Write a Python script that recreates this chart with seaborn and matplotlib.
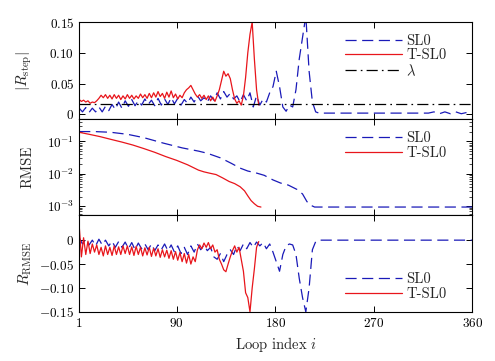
import numpy as np
import matplotlib
matplotlib.use('Agg')
import matplotlib.pyplot as plt
import seaborn as sns

# ---------------- data ----------------
# top panel |R_step|
step_red_loops = list(range(1, 166, 2))
step_red = [0.024, 0.021, 0.023, 0.020, 0.022, 0.018, 0.020, 0.019, 0.022, 0.026,
            0.031, 0.027, 0.032, 0.026, 0.031, 0.025, 0.032, 0.026, 0.031, 0.024,
            0.030, 0.025, 0.032, 0.026, 0.031, 0.025, 0.030, 0.026, 0.033, 0.027,
            0.032, 0.026, 0.034, 0.027, 0.035, 0.028, 0.037, 0.029, 0.034, 0.026,
            0.036, 0.028, 0.038, 0.027, 0.033, 0.025, 0.031, 0.027, 0.035, 0.040,
            0.043, 0.047, 0.040, 0.033, 0.028, 0.032, 0.026, 0.031, 0.024, 0.030,
            0.022, 0.028, 0.021, 0.030, 0.040, 0.055, 0.070, 0.062, 0.066, 0.058,
            0.040, 0.025, 0.018, 0.022, 0.015, 0.030, 0.060, 0.100, 0.130, 0.150,
            0.090, 0.040, 0.015]
step_blue_loops = list(range(1, 221, 3)) + [230, 245, 260, 275, 290, 305, 320, 325, 330, 335, 340, 345, 350, 355, 360]
step_blue = [0.010, 0.004, 0.011, 0.003, 0.010, 0.004, 0.012, 0.004, 0.013, 0.006,
             0.016, 0.008, 0.020, 0.010, 0.022, 0.013, 0.024, 0.014, 0.022, 0.015,
             0.025, 0.016, 0.023, 0.014, 0.026, 0.015, 0.025, 0.016, 0.027, 0.017,
             0.026, 0.015, 0.024, 0.018, 0.028, 0.020, 0.030, 0.022, 0.027, 0.020,
             0.030, 0.023, 0.035, 0.025, 0.037, 0.028, 0.034, 0.025, 0.030, 0.020,
             0.032, 0.022, 0.035, 0.012, 0.030, 0.015, 0.025, 0.020, 0.035, 0.045,
             0.070, 0.045, 0.012, 0.005, 0.015, 0.012, 0.040, 0.090, 0.125, 0.160,
             0.070, 0.020, 0.004, 0.002,
             0.002, 0.002, 0.002, 0.002, 0.002, 0.002, 0.002, 0.004, 0.001, 0.004,
             0.001, 0.004, 0.001, 0.003, 0.002]
lambda_loops = [1, 360]
lambda_vals = [0.017, 0.017]

# middle panel RMSE
rmse_red_loops = [1, 10, 20, 30, 40, 50, 60, 70, 80, 90, 100, 110, 115, 120, 126, 132,
                  138, 143, 148, 152, 155, 158, 161, 164, 167]
rmse_red = [0.19, 0.165, 0.14, 0.115, 0.095, 0.077, 0.060, 0.046, 0.034, 0.026, 0.019,
            0.013, 0.0115, 0.0105, 0.0095, 0.0075, 0.0058, 0.0050, 0.0040, 0.0030,
            0.0021, 0.0015, 0.0012, 0.0010, 0.00095]
rmse_blue_loops = [1, 15, 30, 45, 60, 78, 95, 110, 118, 130, 140, 148, 155, 162, 170,
                   178, 185, 192, 200, 205, 209, 212, 216, 360]
rmse_blue = [0.20, 0.20, 0.19, 0.165, 0.13, 0.088, 0.063, 0.050, 0.043, 0.031, 0.021,
             0.015, 0.0122, 0.0108, 0.0090, 0.0065, 0.0052, 0.0045, 0.0033, 0.0024,
             0.0014, 0.0011, 0.00095, 0.00095]

# bottom panel R_RMSE
rr_red_loops = list(range(1, 166, 2))
rr_red = [0.030, -0.035, 0.005, -0.030, -0.002, -0.028, -0.008, -0.025, -0.010, -0.030,
          -0.015, -0.033, -0.012, -0.030, -0.015, -0.032, -0.012, -0.030, -0.014, -0.030,
          -0.012, -0.028, -0.012, -0.030, -0.014, -0.032, -0.013, -0.030, -0.015, -0.033,
          -0.016, -0.031, -0.015, -0.034, -0.017, -0.033, -0.018, -0.036, -0.020, -0.035,
          -0.021, -0.038, -0.022, -0.040, -0.024, -0.042, -0.026, -0.045, -0.028, -0.048,
          -0.030, -0.050, -0.035, -0.045, -0.020, -0.010, -0.018, -0.006, -0.015, -0.005,
          -0.018, -0.010, -0.025, -0.020, -0.040, -0.050, -0.062, -0.066, -0.050, -0.035,
          -0.022, -0.012, -0.025, -0.015, -0.040, -0.065, -0.110, -0.120, -0.150, -0.100,
          -0.060, -0.015, -0.003]
rr_blue_loops = list(range(1, 221, 3)) + [240, 270, 300, 330, 360]
rr_blue = [0.005, -0.008, 0.002, -0.010, 0.000, -0.012, 0.002, -0.010, 0.000, -0.012,
           -0.002, -0.015, -0.003, -0.015, -0.004, -0.018, -0.005, -0.020, -0.006, -0.018,
           -0.008, -0.020, -0.008, -0.022, -0.010, -0.020, -0.008, -0.022, -0.010, -0.025,
           -0.012, -0.028, -0.015, -0.030, -0.012, -0.025, -0.008, -0.020, -0.010, -0.022,
           -0.015, -0.035, -0.040, -0.028, -0.045, -0.030, -0.020, -0.030, -0.012, -0.022,
           -0.008, -0.018, -0.005, -0.015, -0.004, -0.012, -0.005, -0.018, -0.008, -0.025,
           -0.045, -0.065, -0.030, -0.012, -0.008, -0.010, -0.030, -0.080, -0.120, -0.150,
           -0.100, -0.020, -0.003, 0.000,
           0.000, 0.000, 0.000, 0.000, 0.000]

x_ticks = [1, 90, 180, 270, 360]
top_ticks = [0, 0.05, 0.10, 0.15]
top_ticklabels = ['$0$', '$0.05$', '$0.10$', '$0.15$']
bot_ticks = [0, -0.05, -0.10, -0.15]
bot_ticklabels = ['$0$', '$-0.05$', '$-0.10$', '$-0.15$']

# ---------------- style ----------------
sns.set_theme(style='ticks')
plt.rcParams['font.family'] = 'serif'
plt.rcParams['font.serif'] = ['cmr10']
plt.rcParams['mathtext.fontset'] = 'cm'
plt.rcParams['axes.formatter.use_mathtext'] = True
plt.rcParams['lines.scale_dashes'] = False
plt.rcParams['axes.linewidth'] = 0.8
plt.rcParams['axes.edgecolor'] = 'black'
plt.rcParams['xtick.color'] = 'black'
plt.rcParams['ytick.color'] = 'black'
plt.rcParams['axes.unicode_minus'] = True

FS = 10.5
TFS = 9.5
BLUE = '#1a1ab8'
RED = '#e8151b'
DASH = (0, (8, 4))
DASHDOT = (0, (8, 3, 1.2, 3))

fig = plt.figure(figsize=(4.95, 3.61), dpi=100)
fig.subplots_adjust(left=0.16, right=0.954, top=0.939, bottom=0.136, hspace=0)
axes = fig.subplots(3, 1, sharex=True)
ax1, ax2, ax3 = axes

lw = 0.9
sns.lineplot(x=step_blue_loops, y=step_blue, ax=ax1, color=BLUE, linestyle=DASH, lw=lw, label='SL0')
sns.lineplot(x=step_red_loops, y=step_red, ax=ax1, color=RED, linestyle='-', lw=lw, label='T-SL0')
sns.lineplot(x=lambda_loops, y=lambda_vals, ax=ax1, color='black', linestyle=DASHDOT, lw=lw, label=r'$\lambda$')

sns.lineplot(x=rmse_blue_loops, y=rmse_blue, ax=ax2, color=BLUE, linestyle=DASH, lw=lw, label='SL0')
sns.lineplot(x=rmse_red_loops, y=rmse_red, ax=ax2, color=RED, linestyle='-', lw=lw, label='T-SL0')

sns.lineplot(x=rr_blue_loops, y=rr_blue, ax=ax3, color=BLUE, linestyle=DASH, lw=lw, label='SL0')
sns.lineplot(x=rr_red_loops, y=rr_red, ax=ax3, color=RED, linestyle='-', lw=lw, label='T-SL0')

ax1.set_ylim(-0.007, 0.15)
ax1.set_yticks(top_ticks)
ax1.set_yticklabels(top_ticklabels)

ax2.set_yscale('log')
ax2.set_ylim(5.3e-4, 0.5)
ax2.yaxis.set_major_locator(matplotlib.ticker.FixedLocator([1e-3, 1e-2, 1e-1]))
ax2.set_yticklabels([r'$10^{-3}$', r'$10^{-2}$', r'$10^{-1}$'])
ax2.yaxis.set_minor_locator(matplotlib.ticker.LogLocator(base=10, subs=np.arange(2, 10), numticks=20))
ax2.yaxis.set_minor_formatter(matplotlib.ticker.NullFormatter())

ax3.set_ylim(-0.15, 0.052)
ax3.set_yticks(bot_ticks)
ax3.set_yticklabels(bot_ticklabels)

ax3.set_xlim(1, 360)
ax3.set_xticks(x_ticks)
ax3.set_xticklabels(['$%d$' % v for v in x_ticks])
ax3.set_xlabel(r'Loop index $i$', fontsize=FS, labelpad=4)

ax1.set_ylabel(r'$|R_{\rm step}|$', fontsize=FS + 0.5)
ax2.set_ylabel('RMSE', fontsize=FS)
ax3.set_ylabel(r'$R_{\rm RMSE}$', fontsize=FS + 0.5)

for ax in axes:
    ax.tick_params(which='both', direction='in', top=True, right=True, labelsize=TFS, color='black')
    ax.tick_params(which='major', length=4, width=0.7)
    ax.tick_params(which='minor', length=2, width=0.5)
    ax.yaxis.set_label_coords(-0.115, 0.5)
    for s in ax.spines.values():
        s.set_visible(True)
        s.set_linewidth(0.8)
        s.set_color('black')

leg_kw = dict(frameon=False, fontsize=FS, handlelength=3.9, handletextpad=0.3,
              labelspacing=0.05, borderaxespad=0.3)
ax1.legend(loc='upper right', bbox_to_anchor=(0.96, 0.98), **leg_kw)
ax2.legend(loc='upper right', bbox_to_anchor=(0.96, 0.97), **leg_kw)
ax3.legend(loc='lower right', bbox_to_anchor=(0.96, 0.01), **leg_kw)

fig.savefig('out.png', dpi=100)
